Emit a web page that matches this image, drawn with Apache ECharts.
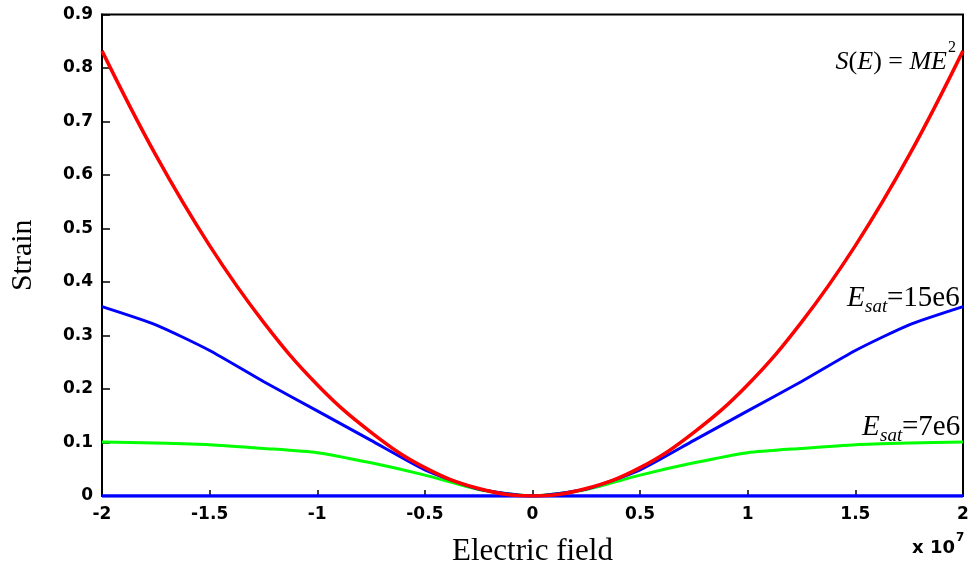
<!DOCTYPE html>
<html>
<head>
<meta charset="utf-8">
<script src="https://cdn.jsdelivr.net/npm/echarts@6/dist/echarts.min.js"></script>
<style>
html,body{margin:0;padding:0;background:#fff;}
#chart{width:973px;height:572px;}
</style>
</head>
<body>
<div id="chart"></div>
<script>
// Electric field (x 10^7)
var fieldValues = [-2, -1.75, -1.5, -1.25, -1, -0.75, -0.5, -0.25, 0, 0.25, 0.5, 0.75, 1, 1.25, 1.5, 1.75, 2];
// S(E) = M E^2
var strainQuadratic = [0.832, 0.637, 0.468, 0.325, 0.208, 0.119, 0.053, 0.014, 0, 0.014, 0.053, 0.119, 0.208, 0.325, 0.468, 0.637, 0.832];
// Esat = 15e6
var strainEsat15 = [0.354, 0.320, 0.272, 0.214, 0.159, 0.104, 0.049, 0.013, 0, 0.013, 0.049, 0.104, 0.159, 0.214, 0.272, 0.320, 0.354];
// Esat = 7e6
var strainEsat7 = [0.101, 0.099, 0.096, 0.089, 0.081, 0.062, 0.039, 0.012, 0, 0.012, 0.039, 0.062, 0.081, 0.089, 0.096, 0.099, 0.101];
// baseline
var strainZero = [0, 0, 0, 0, 0, 0, 0, 0, 0, 0, 0, 0, 0, 0, 0, 0, 0];

var xTickLabels = {'-2':'-2','-1.5':'-1.5','-1':'-1','-0.5':'-0.5','0':'0','0.5':'0.5','1':'1','1.5':'1.5','2':'2'};

function pairs(ys){ return fieldValues.map(function(x,i){ return [x, ys[i]]; }); }

var chart = echarts.init(document.getElementById('chart'), null, {renderer:'canvas'});
var tickFont = {fontFamily:'DejaVu Sans', fontWeight:'bold', fontSize:17, color:'#000'};
var serif = 'Liberation Serif';

chart.setOption({
  animation:false,
  backgroundColor:'#fff',
  grid:{left:101, right:10, top:14.5, bottom:75, show:true, borderColor:'#000', borderWidth:2, backgroundColor:'transparent'},
  xAxis:{
    type:'value', min:-2, max:2, interval:0.5,
    axisLine:{show:true, onZero:false, lineStyle:{color:'#000', width:2}},
    axisTick:{show:true, inside:true, length:6, lineStyle:{color:'#000', width:1.5}},
    splitLine:{show:false},
    axisLabel:Object.assign({margin:10, formatter:function(v){ return xTickLabels[String(v)] || String(v); }}, tickFont),
    name:'Electric field', nameLocation:'middle', nameGap:40,
    nameTextStyle:{fontFamily:serif, fontSize:31, color:'#000'}
  },
  yAxis:{
    type:'value', min:0, max:0.9, interval:0.1,
    axisLine:{show:true, onZero:false, lineStyle:{color:'#000', width:2}},
    axisTick:{show:true, inside:true, length:8, lineStyle:{color:'#000', width:1.5}},
    splitLine:{show:false},
    axisLabel:Object.assign({margin:9, formatter:function(v){ return v===0 ? '0' : v.toFixed(1); }}, tickFont),
    name:'Strain', nameLocation:'middle', nameGap:64, nameRotate:90,
    nameTextStyle:{fontFamily:serif, fontSize:30, color:'#000'}
  },
  series:[
    {type:'line', data:pairs(strainZero), showSymbol:false, lineStyle:{color:'#0000ff', width:3.5}, z:3},
    {type:'line', data:pairs(strainEsat7), showSymbol:false, smooth:0.2, lineStyle:{color:'#00ff00', width:3}, z:4},
    {type:'line', data:pairs(strainEsat15), showSymbol:false, smooth:0.2, lineStyle:{color:'#0000ff', width:3}, z:5},
    {type:'line', data:pairs(strainQuadratic), showSymbol:false, smooth:0.4, lineStyle:{color:'#ff0000', width:3.5}, z:6}
  ],
  graphic:[
    {type:'text', x:947, y:62, style:{text:'{i|S}{r|(}{i|E}{r|) = }{i|ME}', align:'right', verticalAlign:'middle',
      rich:{i:{fontFamily:serif, fontStyle:'italic', fontSize:26, fill:'#000'}, r:{fontFamily:serif, fontSize:26, fill:'#000'}}}},
    {type:'text', x:948, y:48, style:{text:'2', fontFamily:serif, fontSize:16, fill:'#000', align:'left', verticalAlign:'middle'}},
    {type:'text', x:847, y:298, style:{text:'E', fontFamily:serif, fontStyle:'italic', fontSize:29, fill:'#000', align:'left', verticalAlign:'middle'}},
    {type:'text', x:865, y:307, style:{text:'sat', fontFamily:serif, fontStyle:'italic', fontSize:19, fill:'#000', align:'left', verticalAlign:'middle'}},
    {type:'text', x:887, y:298, style:{text:'=15e6', fontFamily:serif, fontSize:29, fill:'#000', align:'left', verticalAlign:'middle'}},
    {type:'text', x:862, y:427, style:{text:'E', fontFamily:serif, fontStyle:'italic', fontSize:29, fill:'#000', align:'left', verticalAlign:'middle'}},
    {type:'text', x:880, y:436, style:{text:'sat', fontFamily:serif, fontStyle:'italic', fontSize:19, fill:'#000', align:'left', verticalAlign:'middle'}},
    {type:'text', x:902, y:427, style:{text:'=7e6', fontFamily:serif, fontSize:29, fill:'#000', align:'left', verticalAlign:'middle'}},
    {type:'text', x:955, y:548, style:{text:'x 10', fontFamily:'DejaVu Sans', fontWeight:'bold', fontSize:18, fill:'#000', align:'right', verticalAlign:'middle'}},
    {type:'text', x:956, y:538, style:{text:'7', fontFamily:'DejaVu Sans', fontWeight:'bold', fontSize:12, fill:'#000', align:'left', verticalAlign:'middle'}}
  ]
});
</script>
</body>
</html>
